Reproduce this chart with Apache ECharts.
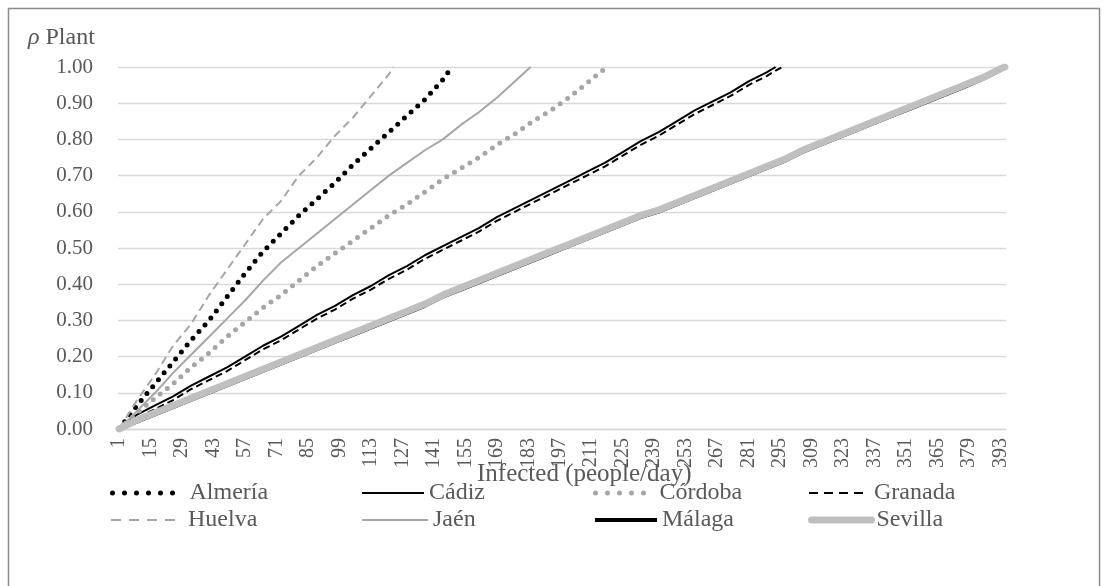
<!DOCTYPE html>
<html>
<head>
<meta charset="utf-8">
<script src="https://cdn.jsdelivr.net/npm/echarts@6/dist/echarts.min.js"></script>
<style>
  html, body { margin: 0; padding: 0; background: #ffffff; }
  #chart { width: 1107px; height: 586px; }
</style>
</head>
<body>
<div id="chart"></div>
<script>
// Infected people per day (category axis 1..N)
const categoryCount = 395;
const categories = [];
for (let i = 1; i <= categoryCount; i++) categories.push(String(i));

// ρ Plant per province, sampled as [infected, ρ]
const almeria = [[1,0],[9,.065],[17,.125],[25,.185],[33,.245],[41,.30],[49,.365],[57,.43],[65,.49],[73,.54],[81,.59],[89,.635],[97,.68],[105,.73],[113,.775],[121,.82],[129,.865],[137,.91],[145,.965],[149,1]];
const cadiz = [[1,0],[9,.04],[17,.065],[25,.09],[33,.12],[41,.145],[49,.17],[57,.20],[65,.23],[73,.255],[81,.285],[89,.315],[97,.34],[105,.37],[113,.395],[121,.425],[129,.45],[137,.48],[145,.505],[153,.53],[161,.555],[169,.585],[177,.61],[185,.635],[193,.66],[201,.685],[209,.71],[217,.735],[225,.765],[233,.795],[241,.82],[249,.85],[257,.88],[265,.905],[273,.93],[281,.96],[289,.985],[293,1]];
const cordoba = [[1,0],[9,.045],[17,.085],[25,.125],[33,.17],[41,.21],[49,.255],[57,.295],[65,.335],[73,.37],[81,.41],[89,.45],[97,.485],[105,.52],[113,.555],[121,.59],[129,.62],[137,.655],[145,.69],[153,.72],[161,.75],[169,.785],[177,.815],[185,.85],[193,.88],[201,.915],[209,.955],[218,1]];
const granada = [[1,0],[9,.03],[17,.055],[25,.08],[33,.11],[41,.135],[49,.16],[57,.19],[65,.22],[73,.245],[81,.275],[89,.305],[97,.33],[105,.36],[113,.385],[121,.415],[129,.44],[137,.47],[145,.495],[153,.52],[161,.545],[169,.575],[177,.60],[185,.625],[193,.65],[201,.675],[209,.70],[217,.725],[225,.755],[233,.785],[241,.81],[249,.84],[257,.87],[265,.895],[273,.92],[281,.95],[289,.975],[293,.99],[296,1]];
const huelva = [[1,0],[9,.08],[17,.15],[25,.23],[33,.29],[41,.37],[49,.44],[57,.51],[65,.58],[73,.63],[81,.70],[89,.75],[97,.81],[105,.86],[113,.92],[121,.98],[123,1]];
const jaen = [[1,0],[9,.05],[17,.10],[25,.155],[33,.205],[41,.255],[49,.305],[57,.355],[65,.41],[73,.46],[81,.50],[89,.54],[97,.58],[105,.62],[113,.66],[121,.70],[129,.735],[137,.77],[145,.80],[153,.84],[161,.875],[169,.915],[177,.96],[184,1]];
const malaga = [[1,0],[9,.019],[17,.039],[25,.059],[33,.079],[41,.099],[49,.119],[57,.139],[65,.159],[73,.179],[81,.199],[89,.219],[97,.239],[105,.259],[113,.279],[121,.299],[129,.319],[137,.339],[145,.364],[153,.384],[161,.404],[169,.424],[177,.444],[185,.464],[193,.484],[201,.504],[209,.524],[217,.544],[225,.564],[233,.584],[241,.599],[249,.619],[257,.639],[265,.659],[273,.679],[281,.699],[289,.719],[297,.739],[305,.764],[313,.784],[321,.804],[329,.824],[337,.844],[345,.864],[353,.884],[361,.904],[369,.924],[377,.944],[385,.965],[393,.99],[395,1]];
const sevilla = [[1,0],[9,.025],[17,.045],[25,.065],[33,.085],[41,.105],[49,.125],[57,.145],[65,.165],[73,.185],[81,.205],[89,.225],[97,.245],[105,.265],[113,.285],[121,.305],[129,.325],[137,.345],[145,.37],[153,.39],[161,.41],[169,.43],[177,.45],[185,.47],[193,.49],[201,.51],[209,.53],[217,.55],[225,.57],[233,.59],[241,.605],[249,.625],[257,.645],[265,.665],[273,.685],[281,.705],[289,.725],[297,.745],[305,.77],[313,.79],[321,.81],[329,.83],[337,.85],[345,.87],[353,.89],[361,.91],[369,.93],[377,.95],[385,.97],[393,.995],[395,1]];

const yTicks = { min: 0, max: 1, step: 0.1 };

const FONT = 'Liberation Serif';
const TEXT = '#595959';
const GRID = '#d9d9d9';

// Line look per province (chart line, legend sample)
const styles = {
  'Almería': { data: almeria, color: '#000000', width: 5,   type: [0, 9],  legendType: [0, 12], cap: 'round' },
  'Cádiz':   { data: cadiz,   color: '#000000', width: 2,   type: 'solid', legendType: 'solid', cap: 'butt' },
  'Córdoba': { data: cordoba, color: '#a6a6a6', width: 5,   type: [0, 9],  legendType: [0, 12], cap: 'round' },
  'Granada': { data: granada, color: '#000000', width: 2,   type: [7, 4],  legendType: [9, 6],  cap: 'butt' },
  'Huelva':  { data: huelva,  color: '#a6a6a6', width: 2,   type: [8, 5],  legendType: [10, 8], cap: 'butt' },
  'Jaén':    { data: jaen,    color: '#a6a6a6', width: 2,   type: 'solid', legendType: 'solid', cap: 'butt' },
  'Málaga':  { data: malaga,  color: '#000000', width: 3,   type: 'solid', legendType: 'solid', cap: 'butt', legendWidth: 4 },
  'Sevilla': { data: sevilla, color: '#bfbfbf', width: 7,   type: 'solid', legendType: 'solid', cap: 'round' }
};

// Legend slots: [left of icon, top, icon width, gap before text]
const legendSlots = {
  'Almería': [110, 481, 68, 4], 'Cádiz':   [361, 481, 62, 0], 'Córdoba': [593, 481, 59, 0], 'Granada': [808, 481, 58, 2],
  'Huelva':  [110, 508, 68, 4], 'Jaén':    [361, 508, 66, 0], 'Málaga':  [593, 508, 62, 0], 'Sevilla': [808, 508, 60, 0]
};

const names = Object.keys(styles);

const series = names.map(function (name) {
  const s = styles[name];
  return {
    name: name,
    type: 'line',
    symbol: 'none',
    showSymbol: false,
    animation: false,
    data: s.data.map(function (p) { return [String(p[0]), p[1]]; }),
    lineStyle: { color: s.color, width: s.width, type: s.type, cap: s.cap, join: 'round' },
    itemStyle: { color: s.color }
  };
});

const legends = names.map(function (name) {
  const s = styles[name];
  const slot = legendSlots[name];
  return {
    data: [name],
    left: slot[0],
    top: slot[1],
    padding: 0,
    itemWidth: slot[2],
    itemHeight: 24,
    selectedMode: false,
    itemStyle: { opacity: 0, borderWidth: 0 },
    lineStyle: { color: s.color, width: s.legendWidth || s.width, type: s.legendType, cap: s.cap },
    textStyle: { fontFamily: FONT, fontSize: 24, color: TEXT, lineHeight: 24, padding: [0, 0, 0, slot[3]] }
  };
});

const chart = echarts.init(document.getElementById('chart'), null, { renderer: 'canvas' });
chart.setOption({
  backgroundColor: '#ffffff',
  animation: false,
  textStyle: { fontFamily: FONT },
  grid: { left: 118, top: 67, right: 101, bottom: 157, containLabel: false },
  xAxis: {
    type: 'category',
    data: categories,
    boundaryGap: true,
    axisTick: { show: false },
    axisLine: { lineStyle: { color: GRID, width: 1.3 } },
    axisLabel: { interval: 13, rotate: 90, fontFamily: FONT, fontSize: 20, color: TEXT, margin: 9 },
    splitLine: { show: false }
  },
  yAxis: {
    type: 'value',
    min: yTicks.min,
    max: yTicks.max,
    interval: yTicks.step,
    axisLine: { show: false },
    axisTick: { show: false },
    axisLabel: {
      fontFamily: FONT, fontSize: 21, color: TEXT, margin: 25,
      formatter: function (v) { return v.toFixed(2); }
    },
    splitLine: { lineStyle: { color: GRID, width: 1.3 } }
  },
  legend: legends,
  series: series,
  graphic: [
    {
      type: 'rect', silent: true,
      shape: { x: 8.5, y: 8.5, width: 1091, height: 600 },
      style: { fill: 'none', stroke: '#8c8c8c', lineWidth: 1.5 }
    },
    {
      type: 'text', left: 28, top: 26, silent: true,
      style: {
        text: '{i|ρ} Plant',
        fontFamily: FONT, fontSize: 24, fill: TEXT,
        rich: { i: { fontFamily: FONT, fontStyle: 'italic', fontSize: 24, fill: TEXT } }
      }
    },
    {
      type: 'text', left: 477, top: 462, silent: true,
      style: { text: 'Infected (people/day)', fontFamily: FONT, fontSize: 25, fill: TEXT }
    }
  ]
});
</script>
</body>
</html>
